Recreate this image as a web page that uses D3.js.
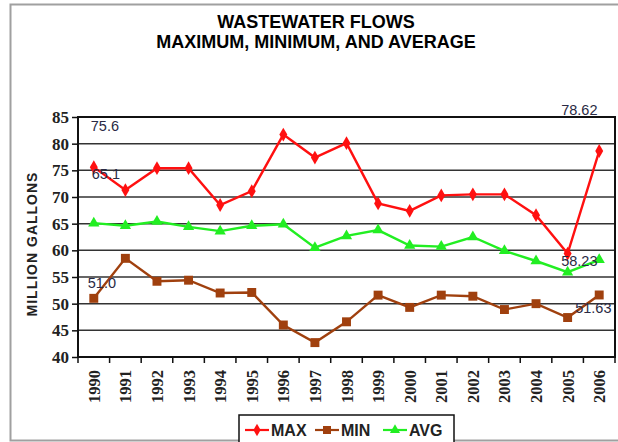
<!DOCTYPE html>
<html>
<head>
<meta charset="utf-8">
<script src="https://cdn.jsdelivr.net/npm/d3@7"></script>
<style>
body { margin: 0; background: #fff; }
svg { display: block; }
</style>
</head>
<body>
<svg></svg>
<script>
// years along the x axis
var years = ["1990","1991","1992","1993","1994","1995","1996","1997","1998",
             "1999","2000","2001","2002","2003","2004","2005","2006"]

// million gallons
var maxFlow = [75.6, 71.3, 75.4, 75.4, 68.5, 71.1, 81.7, 77.4, 80.1,
               68.8, 67.4, 70.3, 70.5, 70.5, 66.6, 59.4, 78.62]
var minFlow = [51.0, 58.5, 54.2, 54.4, 52.0, 52.1, 46.0, 42.7, 46.6,
               51.6, 49.3, 51.6, 51.4, 48.9, 50.0, 47.4, 51.63]
var avgFlow = [65.1, 64.6, 65.4, 64.4, 63.6, 64.6, 64.9, 60.5, 62.7,
               63.8, 60.9, 60.7, 62.5, 59.9, 58.0, 55.9, 58.23]

var yTicks = [40, 45, 50, 55, 60, 65, 70, 75, 80, 85]
var seriesNames = ["MAX", "MIN", "AVG"]
var labelTexts = ["75.6", "65.1", "51.0", "78.62", "58.23", "51.63"]

var screen = {width: 618, height: 442}
var plot = {left: 78, right: 615, top: 117, bottom: 357}

var svg = d3.select("svg")
    .attr("width", screen.width)
    .attr("height", screen.height)

// outer frame of the chart
svg.append("rect")
    .attr("x", 10.5).attr("y", 4.5)
    .attr("width", screen.width).attr("height", 436)
    .attr("fill", "none").attr("stroke", "#a0a0a0").attr("stroke-width", 2)

var xScale = d3.scaleBand().domain(years).range([plot.left, plot.right])
var yScale = d3.scaleLinear().domain([40, 85]).range([plot.bottom, plot.top])
var xc = function(d, i) { return xScale(years[i]) + xScale.bandwidth() / 2 }

// title
svg.append("text")
    .attr("x", 316).attr("y", 28)
    .attr("text-anchor", "middle")
    .attr("font-family", "Liberation Sans, Arial, sans-serif")
    .attr("font-weight", "bold").attr("font-size", 18)
    .text("WASTEWATER FLOWS")
svg.append("text")
    .attr("x", 316).attr("y", 48)
    .attr("text-anchor", "middle")
    .attr("font-family", "Liberation Sans, Arial, sans-serif")
    .attr("font-weight", "bold").attr("font-size", 18)
    .text("MAXIMUM, MINIMUM, AND AVERAGE")

// gridlines
svg.append("g")
    .selectAll("line")
    .data(yTicks.slice(1, -1))
    .enter()
    .append("line")
    .attr("x1", plot.left).attr("x2", plot.right)
    .attr("y1", function(d) { return yScale(d) })
    .attr("y2", function(d) { return yScale(d) })
    .attr("stroke", "#333").attr("stroke-width", 1.5)

// y axis
var yAxis = svg.append("g")
    .attr("transform", "translate(" + plot.left + ",0)")
    .call(d3.axisLeft(yScale).tickValues(yTicks).tickSize(6).tickPadding(3))
yAxis.select(".domain").remove()
yAxis.selectAll("line").attr("stroke", "#111").attr("stroke-width", 1.5)
yAxis.selectAll("text")
    .attr("font-family", "Liberation Serif, Times New Roman, serif")
    .attr("font-weight", "bold").attr("font-size", 17).attr("fill", "#222")

// x axis ticks at the band edges
var xAxis = svg.append("g")
    .attr("transform", "translate(0," + plot.bottom + ")")
xAxis.selectAll("line")
    .data(years.concat(["end"]))
    .enter()
    .append("line")
    .attr("x1", function(d, i) { return plot.left + i * xScale.bandwidth() })
    .attr("x2", function(d, i) { return plot.left + i * xScale.bandwidth() })
    .attr("y1", 0).attr("y2", 6)
    .attr("stroke", "#111").attr("stroke-width", 1.5)
xAxis.selectAll("text")
    .data(years)
    .enter()
    .append("text")
    .attr("transform", function(d, i) {
        return "translate(" + (xc(d, i) + 6) + ",13) rotate(-90)"
    })
    .attr("text-anchor", "end")
    .attr("font-family", "Liberation Serif, Times New Roman, serif")
    .attr("font-weight", "bold").attr("font-size", 16.5).attr("fill", "#222")
    .text(function(d) { return d })

// plot border
svg.append("rect")
    .attr("x", plot.left).attr("y", plot.top)
    .attr("width", plot.right - plot.left).attr("height", plot.bottom - plot.top)
    .attr("fill", "none").attr("stroke", "#111").attr("stroke-width", 2)

// y axis title
svg.append("text")
    .attr("transform", "translate(37," + ((plot.top + plot.bottom) / 2 + 7) + ") rotate(-90)")
    .attr("text-anchor", "middle")
    .attr("font-family", "Liberation Sans, Arial, sans-serif")
    .attr("font-weight", "bold").attr("font-size", 14).attr("letter-spacing", 1)
    .attr("fill", "#222")
    .text("MILLION GALLONS")

var series = [
    {name: seriesNames[0], values: maxFlow, color: "#ff1010", shape: d3.symbolDiamond, size: 55},
    {name: seriesNames[1], values: minFlow, color: "#a0400e", shape: d3.symbolSquare, size: 80},
    {name: seriesNames[2], values: avgFlow, color: "#22ee22", shape: d3.symbolTriangle, size: 55}
]

var line = d3.line()
    .x(xc)
    .y(function(d) { return yScale(d) })

series.forEach(function(s) {
    svg.append("path")
        .datum(s.values)
        .attr("d", line)
        .attr("fill", "none")
        .attr("stroke", s.color).attr("stroke-width", 2.4)
    svg.append("g")
        .selectAll("path")
        .data(s.values)
        .enter()
        .append("path")
        .attr("transform", function(d, i) {
            return "translate(" + xc(d, i) + "," + yScale(d) + ")"
        })
        .attr("d", d3.symbol().type(s.shape).size(s.size))
        .attr("fill", s.color)
})

// data labels for first and last years
var labelSpots = [
    {text: labelTexts[0], i: 0, y: 85, dx: -3, dy: 14},
    {text: labelTexts[1], i: 0, y: avgFlow[0], dx: -2, dy: -44},
    {text: labelTexts[2], i: 0, y: minFlow[0], dx: -6, dy: -10},
    {text: labelTexts[3], i: 16, y: 85, dx: -38, dy: -2},
    {text: labelTexts[4], i: 16, y: avgFlow[16], dx: -38, dy: 6},
    {text: labelTexts[5], i: 16, y: minFlow[16], dx: -24, dy: 18}
]
svg.append("g")
    .selectAll("text")
    .data(labelSpots)
    .enter()
    .append("text")
    .attr("x", function(d) { return xc(null, d.i) + d.dx })
    .attr("y", function(d) { return yScale(d.y) + d.dy })
    .attr("font-family", "Liberation Sans, Arial, sans-serif")
    .attr("font-size", 14.5).attr("fill", "#2a2a44")
    .text(function(d) { return d.text })

// legend
var legend = svg.append("g").attr("transform", "translate(239,415)")
legend.append("rect")
    .attr("x", 0).attr("y", 0).attr("width", 215).attr("height", 30)
    .attr("fill", "#fff").attr("stroke", "#111").attr("stroke-width", 1.5)
var legendX = [6, 76, 144]
series.forEach(function(s, i) {
    var g = legend.append("g").attr("transform", "translate(" + legendX[i] + ",15)")
    g.append("line").attr("x1", 0).attr("x2", 24)
        .attr("stroke", s.color).attr("stroke-width", 2.2)
    g.append("path").attr("transform", "translate(12,0)")
        .attr("d", d3.symbol().type(s.shape).size(s.size * 0.8))
        .attr("fill", s.color)
    g.append("text").attr("x", 26).attr("y", 6)
        .attr("font-family", "Liberation Sans, Arial, sans-serif")
        .attr("font-weight", "bold").attr("font-size", 16).attr("fill", "#222")
        .text(s.name)
})
</script>
</body>
</html>
